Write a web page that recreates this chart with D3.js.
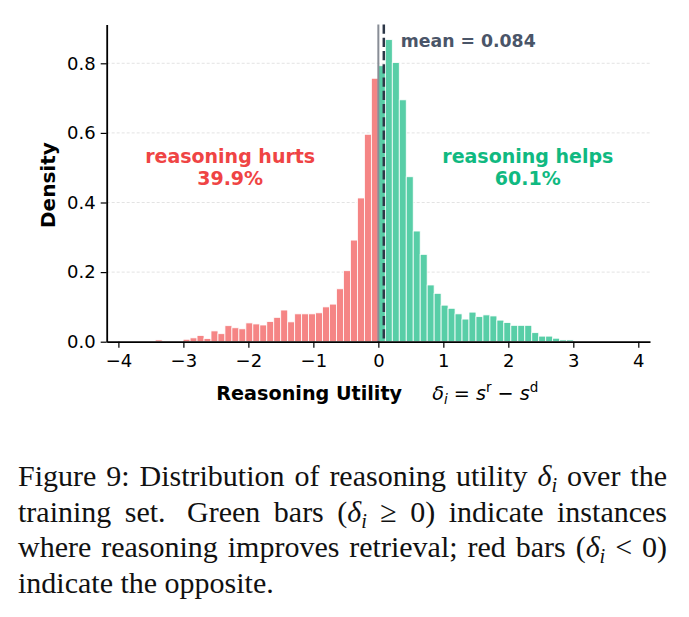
<!DOCTYPE html>
<html>
<head>
<meta charset="utf-8">
<script src="https://cdn.jsdelivr.net/npm/d3@7"></script>
<style>
body { margin: 0; background: #fff; }
svg { display: block; }
</style>
</head>
<body>
<svg id="chart" width="689" height="617"></svg>
<script>
// histogram of reasoning utility, bins of equal width meeting at 0
const binWidth = 0.1073;
// density per bin, left to right, from -3.43 up to 0
const hurtDensity = [0.005, 0.000, 0.000, 0.002, 0.007, 0.011, 0.018, 0.009,
  0.031, 0.023, 0.046, 0.040, 0.037, 0.054, 0.051, 0.048,
  0.058, 0.070, 0.091, 0.057, 0.080, 0.080, 0.080, 0.083,
  0.100, 0.108, 0.152, 0.204, 0.292, 0.413, 0.596, 0.757];
// density per bin from 0 up to 3.0
const helpDensity = [0.793, 0.868, 0.802, 0.695, 0.474, 0.318, 0.251, 0.163,
  0.139, 0.105, 0.096, 0.080, 0.065, 0.085, 0.072, 0.077,
  0.074, 0.062, 0.055, 0.047, 0.047, 0.047, 0.026, 0.016,
  0.016, 0.010, 0.005, 0.005];
const meanUtility = 0.084;
const hurtShare = "39.9%";
const helpShare = "60.1%";
const xTicks = [-4, -3, -2, -1, 0, 1, 2, 3, 4];
const yTicks = [0, 0.2, 0.4, 0.6, 0.8];
const captionLines = [
  "Figure 9: Distribution of reasoning utility δ_i over the",
  "training set. Green bars (δ_i ≥ 0) indicate instances",
  "where reasoning improves retrieval; red bars (δ_i < 0)",
  "indicate the opposite."
];

const svg = d3.select("#chart");
const sans = "'DejaVu Sans', sans-serif";

const bins = [];
hurtDensity.forEach((d, i) => {
  const k = i - hurtDensity.length;
  bins.push({ x0: k * binWidth, x1: (k + 1) * binWidth, v: d, side: "hurt" });
});
helpDensity.forEach((d, i) => {
  bins.push({ x0: i * binWidth, x1: (i + 1) * binWidth, v: d, side: "help" });
});

const yMax = d3.max(bins, d => d.v) * 1.05;
const bottom = 341.7;

const x = d3.scaleLinear().domain([-4.18, 4.18]).range([106.7, 650]);
const y = d3.scaleLinear().domain([0, yMax]).range([bottom, bottom - yMax * 348]);

// light dashed grid
svg.append("g")
  .selectAll("line")
  .data(yTicks.slice(1))
  .enter().append("line")
  .attr("x1", x.range()[0])
  .attr("x2", x.range()[1])
  .attr("y1", d => y(d))
  .attr("y2", d => y(d))
  .attr("stroke", "#dcdcdc")
  .attr("stroke-width", 0.8)
  .attr("stroke-dasharray", "3,2");

const fillColor = { hurt: "#f58585", help: "#58cea7" };

svg.append("g")
  .selectAll("rect")
  .data(bins.filter(d => d.v > 0))
  .enter().append("rect")
  .attr("x", d => x(d.x0))
  .attr("width", d => x(d.x1) - x(d.x0))
  .attr("y", d => y(d.v))
  .attr("height", d => y(0) - y(d.v))
  .attr("fill", d => fillColor[d.side])
  .attr("stroke", "#fff")
  .attr("stroke-width", 0.8);

// zero line and mean line
svg.append("line")
  .attr("x1", x(0)).attr("x2", x(0))
  .attr("y1", y(yMax)).attr("y2", y(0))
  .attr("stroke", "#888d96")
  .attr("stroke-width", 2);

svg.append("line")
  .attr("x1", x(meanUtility)).attr("x2", x(meanUtility))
  .attr("y1", y(yMax)).attr("y2", y(0))
  .attr("stroke", "#2d3748")
  .attr("stroke-width", 2.5)
  .attr("stroke-dasharray", "9.25,4");

svg.append("text")
  .attr("x", x(meanUtility) + 17)
  .attr("y", y(0.85) + 1)
  .attr("font-family", sans)
  .attr("font-weight", "bold")
  .attr("font-size", 17.3)
  .attr("fill", "#4a5568")
  .text("mean = " + meanUtility.toFixed(3));

// side annotations
function annotate(cx, label, share, color) {
  const t = svg.append("text")
    .attr("text-anchor", "middle")
    .attr("font-family", sans)
    .attr("font-weight", "bold")
    .attr("font-size", 19)
    .attr("fill", color);
  t.append("tspan").attr("x", x(cx)).attr("y", y(0.5) - 5).text(label);
  t.append("tspan").attr("x", x(cx)).attr("y", y(0.5) + 17).text(share);
}
annotate(-2.28, "reasoning hurts", hurtShare, "#ef4444");
annotate(2.30, "reasoning helps", helpShare, "#10b981");

// axes
const xAxis = svg.append("g")
  .attr("transform", "translate(0," + bottom + ")")
  .call(d3.axisBottom(x).tickValues(xTicks).tickFormat(d3.format("d"))
    .tickSize(6).tickSizeOuter(0).tickPadding(7));

const yAxis = svg.append("g")
  .attr("transform", "translate(" + x.range()[0] + ",0)")
  .call(d3.axisLeft(y).tickValues(yTicks).tickFormat(d3.format(".1f"))
    .tickSize(6).tickSizeOuter(0).tickPadding(5));

[xAxis, yAxis].forEach(a => {
  a.attr("font-size", null).attr("font-family", null);
  a.select(".domain").attr("stroke", "#000").attr("stroke-width", 1.8);
  a.selectAll(".tick line").attr("stroke", "#000").attr("stroke-width", 1.2);
  a.selectAll(".tick text")
    .style("font-family", sans)
    .style("font-size", "18px")
    .attr("fill", "#000");
});

// axis titles
svg.append("text")
  .attr("transform", "translate(55," + ((y(0) + y(yMax)) / 2 + 2) + ") rotate(-90)")
  .attr("text-anchor", "middle")
  .attr("font-family", sans)
  .attr("font-weight", "bold")
  .attr("font-size", 20)
  .text("Density");

const xl = svg.append("text")
  .attr("x", (x.range()[0] + x.range()[1]) / 2 - 1)
  .attr("y", 400)
  .attr("text-anchor", "middle")
  .attr("font-family", sans)
  .attr("font-size", 19.2);
xl.append("tspan").attr("font-weight", "bold").text("Reasoning Utility");
xl.append("tspan").attr("dx", 30).attr("font-style", "italic").text("δ");
xl.append("tspan").attr("font-style", "italic").attr("font-size", 13.5).attr("dy", 4).text("i");
xl.append("tspan").attr("dy", -4).text(" = ");
xl.append("tspan").attr("font-style", "italic").text("s");
xl.append("tspan").attr("font-size", 13.5).attr("dy", -8).text("r");
xl.append("tspan").attr("dy", 8).text(" − ");
xl.append("tspan").attr("font-style", "italic").text("s");
xl.append("tspan").attr("font-size", 13.5).attr("dy", -8).text("d");

// caption, justified like the paper text
const capFont = 30;
const capLeft = 18, capRight = 667;
const baselines = [486, 521.5, 557, 592.5];
const cap = svg.append("g")
  .attr("font-family", "'Liberation Serif', 'Times New Roman', serif")
  .attr("font-size", capFont)
  .attr("fill", "#111");

function fillToken(t, word) {
  const parts = word.split("δ_i");
  let pending = 0;
  parts.forEach((p, k) => {
    if (p) {
      const s = t.append("tspan").text(p);
      if (pending) { s.attr("dy", pending); pending = 0; }
    }
    if (k < parts.length - 1) {
      t.append("tspan").attr("font-style", "italic").text("δ");
      t.append("tspan").attr("font-style", "italic").attr("font-size", "68%").attr("dy", 6).text("i");
      pending = -6;
    }
  });
}

captionLines.forEach((line, li) => {
  const words = line.split(" ");
  const nodes = words.map(w => {
    const t = cap.append("text").attr("y", baselines[li]);
    fillToken(t, w);
    return t;
  });
  const widths = nodes.map(t => t.node().getComputedTextLength());
  const total = d3.sum(widths);
  // sentence end gets a wider gap
  const weights = words.slice(0, -1).map(w => /\.$/.test(w) ? 1.6 : 1);
  let gap;
  if (li < captionLines.length - 1) {
    gap = (capRight - capLeft - total) / d3.sum(weights);
  } else {
    gap = capFont * 0.25;
  }
  let cx = capLeft;
  nodes.forEach((t, i) => {
    t.attr("x", cx);
    cx += widths[i] + (i < weights.length ? gap * weights[i] : 0);
  });
});
</script>
</body>
</html>
